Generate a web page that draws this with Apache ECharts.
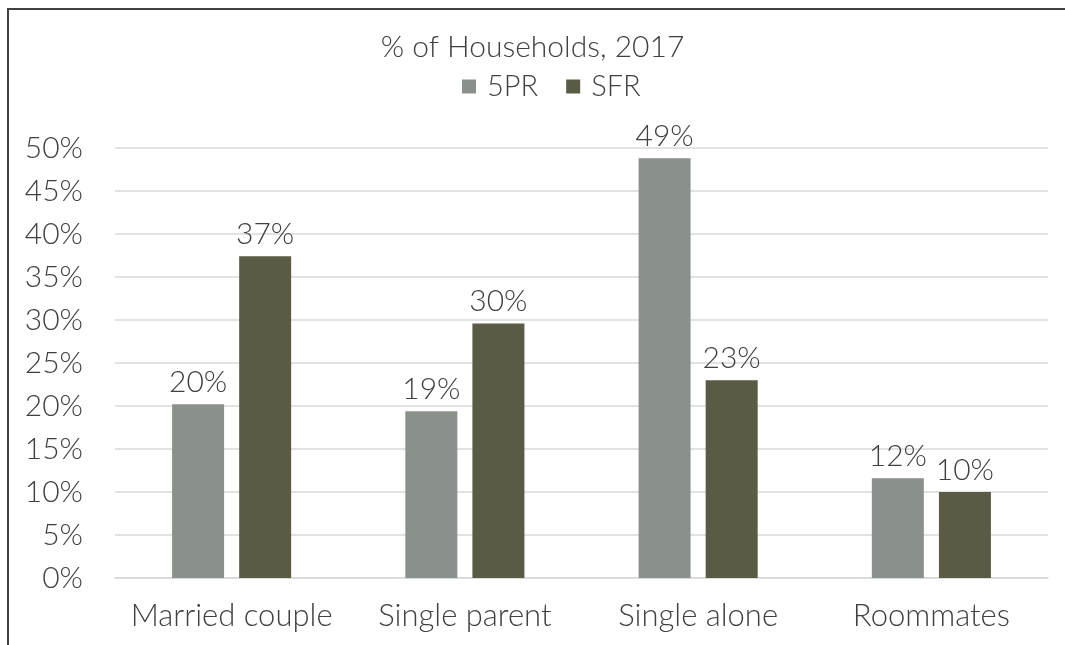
<!DOCTYPE html>
<html>
<head>
<meta charset="utf-8">
<script src="https://cdn.jsdelivr.net/npm/echarts@6/dist/echarts.min.js"></script>
<style>
  html, body { margin: 0; padding: 0; background: #fff; }
  #chart { width: 1065px; height: 645px; }
</style>
</head>
<body>
<div id="chart"></div>
<script>
// Household composition shares, 2017
const categories = ['Married couple', 'Single parent', 'Single alone', 'Roommates'];
const seriesNames = ['5PR', 'SFR'];
const values5PR = [0.202, 0.194, 0.488, 0.116];
const valuesSFR = [0.374, 0.296, 0.230, 0.100];
const yTicks = { min: 0, max: 0.5, interval: 0.05 };

const FONT = 'Lato';
const TEXT = '#404040';
const colors = ['#8A918A', '#5B5A44'];

const pct = v => Math.round(v * 100) + '%';

const chart = echarts.init(document.getElementById('chart'), null, { renderer: 'canvas' });

const labelStyle = {
  show: true,
  position: 'top',
  distance: 7,
  color: TEXT,
  fontFamily: FONT,
  fontWeight: 300,
  fontSize: 30,
  formatter: p => pct(p.value)
};

chart.setOption({
  animation: false,
  backgroundColor: '#fff',
  color: colors,
  title: {
    text: '% of Households, 2017',
    left: 'center',
    top: 27,
    textStyle: { color: TEXT, fontFamily: FONT, fontWeight: 300, fontSize: 30 }
  },
  legend: {
    data: seriesNames,
    top: 67,
    left: 457,
    itemWidth: 14,
    itemHeight: 14,
    itemGap: 28,
    icon: 'rect',
    textStyle: { color: TEXT, fontFamily: FONT, fontWeight: 300, fontSize: 29, padding: [0, 0, 0, 6] }
  },
  grid: { left: 115, right: 17, top: 148, bottom: 67, containLabel: false },
  xAxis: {
    type: 'category',
    data: categories,
    axisLine: { show: true, lineStyle: { color: '#D9D9D9', width: 1.5 } },
    axisTick: { show: false },
    axisLabel: { interval: 0, color: TEXT, fontFamily: FONT, fontWeight: 300, fontSize: 31, margin: 22 }
  },
  yAxis: {
    type: 'value',
    min: yTicks.min,
    max: yTicks.max,
    interval: yTicks.interval,
    axisLine: { show: false },
    axisTick: { show: false },
    splitLine: { lineStyle: { color: '#D9D9D9', width: 1.5 } },
    axisLabel: {
      color: TEXT, fontFamily: FONT, fontWeight: 300, fontSize: 30, margin: 32,
      formatter: v => pct(v)
    }
  },
  series: [
    { name: seriesNames[0], type: 'bar', data: values5PR, barWidth: 52, barGap: '29%', label: labelStyle },
    { name: seriesNames[1], type: 'bar', data: valuesSFR, barWidth: 52, barGap: '29%', label: labelStyle }
  ],
  graphic: [
    { type: 'line', shape: { x1: 8, y1: 9, x2: 1065, y2: 9 }, style: { stroke: '#404040', lineWidth: 2 } },
    { type: 'line', shape: { x1: 8, y1: 8, x2: 8, y2: 645 }, style: { stroke: '#404040', lineWidth: 2 } }
  ]
});
</script>
</body>
</html>
